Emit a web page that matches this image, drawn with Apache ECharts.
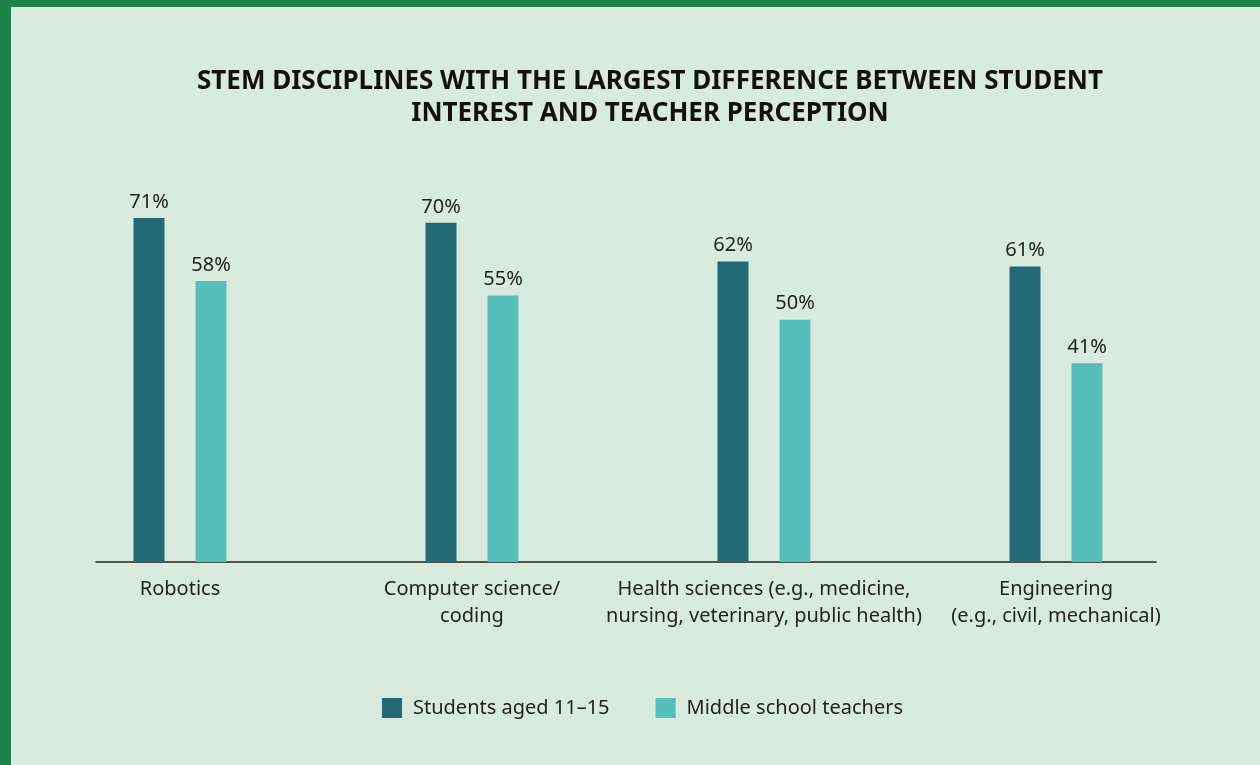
<!DOCTYPE html>
<html>
<head>
<meta charset="utf-8">
<script src="https://cdn.jsdelivr.net/npm/echarts@6/dist/echarts.min.js"></script>
<style>
  html, body { margin: 0; padding: 0; }
  #wrap { width: 1260px; height: 765px; background: #1c844b; position: relative; overflow: hidden; }
  #chart { position: absolute; left: 11px; top: 7px; width: 1249px; height: 758px; }
</style>
</head>
<body>
<div id="wrap"><div id="chart"></div></div>
<script>
const categories = [
  'Robotics',
  'Computer science/\ncoding',
  'Health sciences (e.g., medicine,\nnursing, veterinary, public health)',
  'Engineering\n(e.g., civil, mechanical)'
]
const students = [71, 70, 62, 61]
const teachers = [58, 55, 50, 41]

const font = 'Noto Sans'
const chart = echarts.init(document.getElementById('chart'))

const barLabel = {
  show: true,
  position: 'top',
  distance: 6,
  color: '#222',
  fontSize: 20,
  fontFamily: font,
  formatter: '{c}%'
}

chart.setOption({
  backgroundColor: '#d9ebdf',
  title: {
    text: 'STEM DISCIPLINES WITH THE LARGEST DIFFERENCE BETWEEN STUDENT\nINTEREST AND TEACHER PERCEPTION',
    left: 634,
    top: 54,
    textAlign: 'center',
    textStyle: {
      fontFamily: font,
      fontSize: 26,
      fontWeight: 'bold',
      color: '#111',
      lineHeight: 32
    }
  },
  legend: {
    data: ['Students aged 11–15', 'Middle school teachers'],
    left: 366,
    top: 686,
    itemWidth: 20,
    itemHeight: 20,
    itemGap: 46,
    icon: 'rect',
    textStyle: { fontFamily: font, fontSize: 20, color: '#222', padding: [0, 0, 0, 6] }
  },
  grid: [
    { left: 23, right: 58, top: 70.5, bottom: 203 },
    // only carries the baseline, which is narrower than the bar bands
    { left: 85, right: 104, top: 70.5, bottom: 203 }
  ],
  xAxis: [
    {
      type: 'category',
      gridIndex: 0,
      data: categories,
      axisLine: { show: false },
      axisTick: { show: false },
      axisLabel: {
        margin: 14,
        color: '#222',
        fontSize: 20,
        fontFamily: font,
        lineHeight: 27,
        interval: 0
      }
    },
    {
      type: 'value',
      gridIndex: 1,
      min: 0,
      max: 1,
      axisLine: { show: true, onZero: false, lineStyle: { color: '#222', width: 1.5 } },
      axisTick: { show: false },
      axisLabel: { show: false },
      splitLine: { show: false }
    }
  ],
  yAxis: [
    {
      type: 'value',
      gridIndex: 0,
      min: 0,
      max: 100,
      show: false
    },
    {
      type: 'value',
      gridIndex: 1,
      min: 0,
      max: 1,
      show: false
    }
  ],
  series: [
    {
      name: 'Students aged 11–15',
      type: 'bar',
      data: students,
      barWidth: 31,
      barGap: '100%',
      itemStyle: { color: '#226b76' },
      label: barLabel
    },
    {
      name: 'Middle school teachers',
      type: 'bar',
      data: teachers,
      barWidth: 31,
      barGap: '100%',
      itemStyle: { color: '#56bfbb' },
      label: barLabel
    }
  ]
})
</script>
</body>
</html>
